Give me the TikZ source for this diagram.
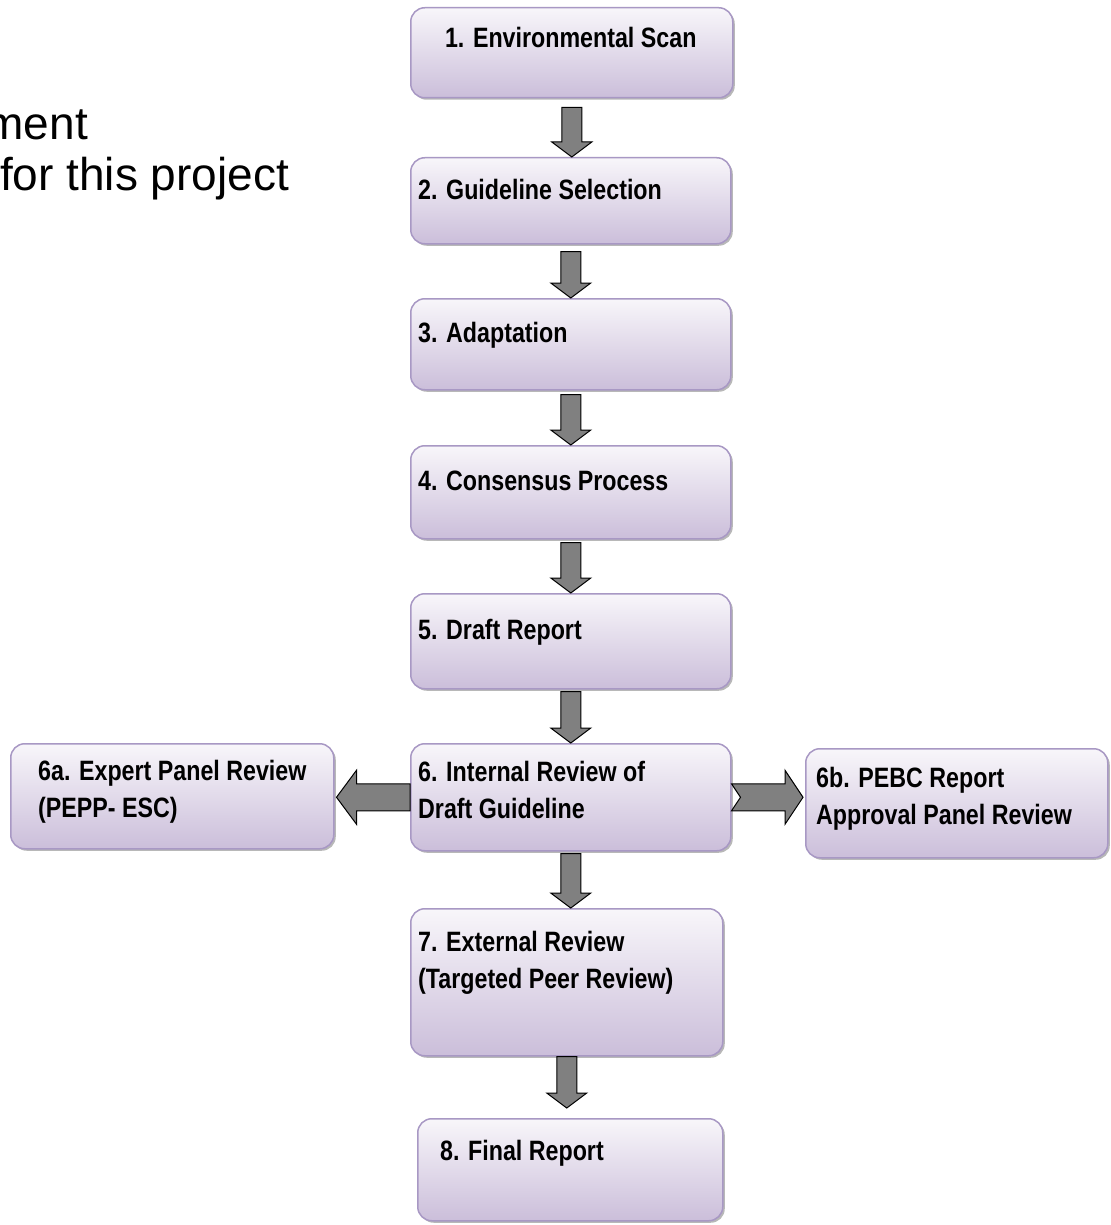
\documentclass[tikz,border=0pt]{standalone}
\usepackage{fontspec}
\setmainfont{Liberation Sans}
\newfontfamily\boxfont[FakeStretch=0.83]{Liberation Sans}
\usetikzlibrary{calc,shadows}
\definecolor{boxtop}{HTML}{F8F6FA}
\definecolor{boxbot}{HTML}{CBBEDA}
\definecolor{boxline}{HTML}{A898C4}
\definecolor{arrowgray}{HTML}{808080}
\tikzset{
 stepbox/.style={draw=boxline, line width=1.5pt, rounded corners=14pt, top color=boxtop, bottom color=boxbot, anchor=north west, inner sep=0pt, drop shadow={shadow xshift=2pt, shadow yshift=-2pt, fill=black!55, opacity=0.5}},
 steptext/.style={font=\boxfont\bfseries\fontsize{28}{37}\selectfont, align=left, inner sep=0pt, anchor=base west},
 introtext/.style={font=\fontsize{46}{55}\selectfont, inner sep=0pt},
 barrow/.style={fill=arrowgray, draw=black, line width=1pt, line join=miter},
}
\newcommand{\vblockarrow}[4]{%
 \coordinate (s#1) at ($(#1.south)+(0,#3)$);
 \coordinate (e#1) at ($(s#1 |- #2.north)+(0,-#4)$);
 \draw[barrow] ($(s#1)+(-10,0)$) -- ($(e#1)+(-10,-15)$) -- ($(e#1)+(-20,-15)$) -- (e#1) -- ($(e#1)+(20,-15)$) -- ($(e#1)+(10,-15)$) -- ($(s#1)+(10,0)$) -- cycle;}
\begin{document}
\begin{tikzpicture}[x=1pt,y=-1pt]
\useasboundingbox (0,0) rectangle (1110,1225);
\fill[white] (0,0) rectangle (1110,1225);

% intro text (cut off at left, as in the reference)
\node[introtext, anchor=base east] (m1) at (88,140) {ment};
\node[introtext, anchor=base west] (m2) at (0,190) {for this project};

% boxes
\node[stepbox, minimum width=322pt, minimum height=90pt] (b1) at (410,7) {};
\node[stepbox, minimum width=320pt, minimum height=86pt] (b2) at (410,157) {};
\node[stepbox, minimum width=320pt, minimum height=91pt] (b3) at (410,298) {};
\node[stepbox, minimum width=320pt, minimum height=93pt] (b4) at (410,445) {};
\node[stepbox, minimum width=320pt, minimum height=95pt] (b5) at (410,593) {};
\node[stepbox, minimum width=320pt, minimum height=107pt] (b6) at (410,743) {};
\node[stepbox, minimum width=323pt, minimum height=105pt] (b6a) at (10,743) {};
\node[stepbox, minimum width=302pt, minimum height=109pt] (b6b) at (805,748) {};
\node[stepbox, minimum width=312pt, minimum height=147pt] (b7) at (410,908) {};
\node[stepbox, minimum width=305pt, minimum height=102pt] (b8) at (417,1118) {};

% texts (base anchor = baseline of last line)
\node[steptext, anchor=base] (t1) at ($(b1.north)+(-1,41)$) {1. Environmental Scan};
\node[steptext] (t2) at ($(b2.north west)+(8,42)$) {2. Guideline Selection};
\node[steptext] (t3) at ($(b3.north west)+(8,44)$) {3. Adaptation};
\node[steptext] (t4) at ($(b4.north west)+(8,45)$) {4. Consensus Process};
\node[steptext] (t5) at ($(b5.north west)+(8,46)$) {5. Draft Report};
\node[steptext] (t6) at ($(b6.north west)+(8,75)$) {6. Internal Review of\\Draft Guideline};
\node[steptext] (t6a) at ($(b6a.north west)+(28,74)$) {6a. Expert Panel Review\\(PEPP- ESC)};
\node[steptext] (t6b) at ($(b6b.north west)+(11,76)$) {6b. PEBC Report\\Approval Panel Review};
\node[steptext] (t7) at ($(b7.north west)+(8,80)$) {7. External Review\\(Targeted Peer Review)};
\node[steptext] (t8) at ($(b8.north west)+(23,42)$) {8. Final Report};

% vertical block arrows
\vblockarrow{b1}{b2}{9}{0}
\vblockarrow{b2}{b3}{7}{0}
\vblockarrow{b3}{b4}{4}{0}
\vblockarrow{b4}{b5}{3}{0}
\vblockarrow{b5}{b6}{2}{0}
\vblockarrow{b6}{b7}{2}{0}
\vblockarrow{b7}{b8}{0}{10}

% left arrow 6 -> 6a
\coordinate (ls) at (b6.west);
\coordinate (le) at ($(ls -| b6a.east)+(2,0)$);
\draw[barrow] ($(ls)+(0,-13.5)$) -- ($(le)+(20,-13.5)$) -- ($(le)+(20,-27)$) -- (le) -- ($(le)+(20,27)$) -- ($(le)+(20,13.5)$) -- ($(ls)+(0,13.5)$) -- cycle;

% right notched arrow 6 -> 6b
\coordinate (rs) at (b6.east);
\coordinate (re) at ($(rs -| b6b.west)+(-2,0)$);
\draw[barrow] ($(rs)+(0,-13.5)$) -- ($(re)+(-18,-13.5)$) -- ($(re)+(-18,-27)$) -- (re) -- ($(re)+(-18,27)$) -- ($(re)+(-18,13.5)$) -- ($(rs)+(0,13.5)$) -- ($(rs)+(9,0)$) -- cycle;
\end{tikzpicture}
\end{document}
